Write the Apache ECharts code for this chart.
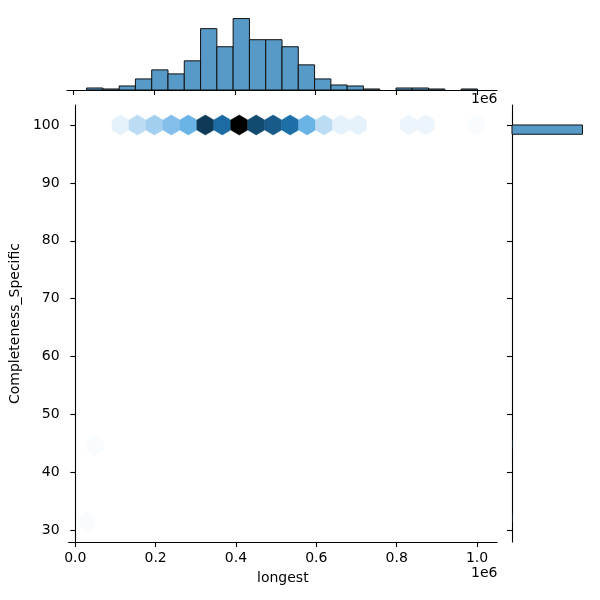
<!DOCTYPE html>
<html>
<head>
<meta charset="utf-8">
<script src="https://cdn.jsdelivr.net/npm/echarts@6/dist/echarts.min.js"></script>
<style>html,body{margin:0;padding:0;background:#fff}#c{width:600px;height:600px}</style>
</head>
<body>
<div id="c"></div>
<script>
// ---- data ----
const xTicks = [0, 200000, 400000, 600000, 800000, 1000000];
const yTicks = [30, 40, 50, 60, 70, 80, 90, 100];
// top marginal histogram of "longest"
const histStart = 31900, histEnd = 1001200;
const histCounts = [2,1,4,11,20,16,29,61,43,71,50,50,43,25,11,5,4,1,0,2,2,1,0,1];
// right marginal histogram of Completeness_Specific
const yHistLow = [31.4, 44.1, 98.4];
const yHistHigh = [33.0, 45.7, 100.0];
const yHistCounts = [1, 1, 451];
// hexbin cells
const hexX = [28200, 49300, 112600, 154800, 197000, 239200, 281400, 323700, 365900, 408100, 450300, 492500, 534800, 577000, 619200, 661400, 703600, 830300, 872500, 999200];
const hexY = [31.5, 44.7, 100, 100, 100, 100, 100, 100, 100, 100, 100, 100, 100, 100, 100, 100, 100, 100, 100, 100];
const hexCount = [1, 1, 4, 11, 15, 20, 24, 56, 44, 70, 52, 48, 43, 24, 11, 4, 4, 3, 3, 1];

// ---- styles ----
const X_MIN = -16600, X_MAX = 1049700, Y_MIN = 28.0, Y_MAX = 103.45;
const HEX_HW = 21110, HEX_HH = 1.73;
const FONT = 'DejaVu Sans';
const BAR_FILL = '#5799c7';

function rgb2hls(r,g,b){const mx=Math.max(r,g,b),mn=Math.min(r,g,b);const l=(mx+mn)/2;if(mx===mn)return[0,l,0];const d=mx-mn;const s=l<=0.5?d/(mx+mn):d/(2-mx-mn);let h;if(mx===r)h=(g-b)/d;else if(mx===g)h=2+(b-r)/d;else h=4+(r-g)/d;h=(h/6)%1;if(h<0)h+=1;return[h,l,s];}
function vv(m1,m2,h){h=((h%1)+1)%1;if(h<1/6)return m1+(m2-m1)*h*6;if(h<0.5)return m2;if(h<2/3)return m1+(m2-m1)*(2/3-h)*6;return m1;}
function hls2rgb(h,l,s){if(s===0)return[l,l,l];const m2=l<=0.5?l*(1+s):l+s-l*s;const m1=2*l-m2;return[vv(m1,m2,h+1/3),vv(m1,m2,h),vv(m1,m2,h-1/3)];}
const base = rgb2hls(0x1f/255,0x77/255,0xb4/255);
const palette = [];
for(let i=0;i<12;i++){palette.push(hls2rgb(base[0], 1 - i/11, base[2]));}
function cmap(t){t=Math.max(0,Math.min(1,t));const p=t*11;const i=Math.min(10,Math.floor(p));const f=p-i;const a=palette[i],b=palette[i+1];const c=[0,1,2].map(k=>Math.round(255*(a[k]+(b[k]-a[k])*f)));return 'rgb('+c.join(',')+')';}
const maxCount = Math.max(...hexCount);

const binW = (histEnd-histStart)/histCounts.length;
const topData = histCounts.map((c,i)=>[histStart+i*binW, histStart+(i+1)*binW, c]);
const rightData = yHistCounts.map((c,i)=>[yHistLow[i], yHistHigh[i], c]);
const hexData = hexX.map((x,i)=>[x, hexY[i], hexCount[i]]);

const chart = echarts.init(document.getElementById('c'), null, {renderer:'canvas'});
const axisLine = {show:true, lineStyle:{color:'#000', width:1.1}};
const axisTick = {show:true, length:5, lineStyle:{color:'#000', width:1.1}};

chart.setOption({
  animation:false,
  textStyle:{fontFamily:FONT},
  grid:[
    {left:67, top:105, width:430, height:437},
    {left:67, top:15, width:430, height:75},
    {left:512, top:105, width:74, height:437}
  ],
  xAxis:[
    {gridIndex:0, type:'value', min:X_MIN, max:X_MAX, axisLine, axisTick:Object.assign({customValues:xTicks}, axisTick),
     splitLine:{show:false},
     axisLabel:{customValues:xTicks, color:'#000', fontSize:14, fontFamily:FONT, margin:9, formatter:v=>(v/1e6).toFixed(1)},
     name:'longest', nameLocation:'middle', nameGap:29, nameTextStyle:{color:'#000', fontSize:14, fontFamily:FONT}},
    {gridIndex:1, type:'value', min:X_MIN, max:X_MAX, axisLine, axisTick:Object.assign({customValues:xTicks}, axisTick),
     splitLine:{show:false}, axisLabel:{show:false}},
    {gridIndex:2, type:'value', min:0, max:yHistCounts[2]*1.05, show:false}
  ],
  yAxis:[
    {gridIndex:0, type:'value', min:Y_MIN, max:Y_MAX, axisLine, axisTick:Object.assign({customValues:yTicks}, axisTick),
     splitLine:{show:false},
     axisLabel:{customValues:yTicks, color:'#000', fontSize:14, fontFamily:FONT, margin:9},
     name:'Completeness_Specific', nameLocation:'middle', nameGap:43, nameTextStyle:{color:'#000', fontSize:14, fontFamily:FONT}},
    {gridIndex:1, type:'value', min:0, max:71*1.05, show:false},
    {gridIndex:2, type:'value', min:Y_MIN, max:Y_MAX, axisLine, axisTick:Object.assign({customValues:yTicks}, axisTick),
     splitLine:{show:false}, axisLabel:{show:false}}
  ],
  series:[
    {type:'custom', xAxisIndex:0, yAxisIndex:0, data:hexData, clip:false,
     renderItem:(params, api)=>{
       const x=api.value(0), y=api.value(1), c=api.value(2);
       const pts=[[x,y+HEX_HH],[x+HEX_HW,y+HEX_HH/2],[x+HEX_HW,y-HEX_HH/2],[x,y-HEX_HH],[x-HEX_HW,y-HEX_HH/2],[x-HEX_HW,y+HEX_HH/2]].map(p=>api.coord(p));
       const col=cmap(c/maxCount);
       return {type:'polygon', shape:{points:pts}, style:{fill:col, stroke:col, lineWidth:0.5}};
     }},
    {type:'custom', xAxisIndex:1, yAxisIndex:1, data:topData, clip:false,
     renderItem:(params, api)=>{
       const p0=api.coord([api.value(0), api.value(2)]);
       const p1=api.coord([api.value(1), 0]);
       if(api.value(2)<=0) return null;
       return {type:'rect', shape:{x:p0[0], y:p0[1], width:p1[0]-p0[0], height:p1[1]-p0[1]}, style:{fill:BAR_FILL, stroke:'#111', lineWidth:1}};
     }},
    {type:'custom', xAxisIndex:2, yAxisIndex:2, data:rightData, clip:false,
     renderItem:(params, api)=>{
       const p0=api.coord([0, api.value(1)]);
       const p1=api.coord([api.value(2), api.value(0)]);
       const w=p1[0]-p0[0];
       const thin = w < 1;
       return {type:'rect', shape:{x:p0[0], y:p0[1], width:w, height:p1[1]-p0[1]}, style:{fill:BAR_FILL, stroke:thin?null:'#111', lineWidth:thin?0:1}};
     }}
  ],
  graphic:[
    {type:'text', left:471, top:92, z:-1, style:{text:'1e6', fill:'#000', font:'14px "DejaVu Sans"'}},
    {type:'text', left:471, top:566, style:{text:'1e6', fill:'#000', font:'14px "DejaVu Sans"'}}
  ]
});
</script>
</body>
</html>
